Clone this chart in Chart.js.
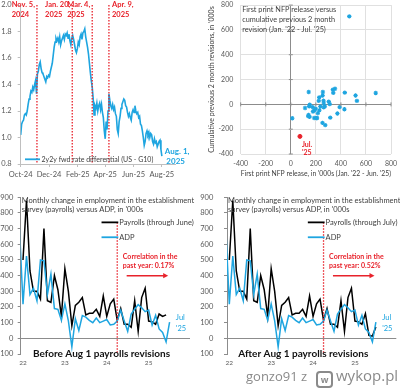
<!DOCTYPE html>
<html>
<head>
<meta charset="utf-8">
<script src="https://cdn.jsdelivr.net/npm/chart.js@4.4.1/dist/chart.umd.min.js"></script>
<style>
  html, body { margin: 0; padding: 0; background: #fff; width: 400px; height: 388px; overflow: hidden; }
  canvas { position: absolute; }
  .wm { position: absolute; color: #8a8a8a; font-family: 'Open Sans', sans-serif; white-space: nowrap; line-height: 1; }
  #who { left: 246px; top: 370px; font-size: 13px; }
  #logo { left: 316px; top: 371px; width: 13px; height: 13px; border: 2px solid #8a8a8a; border-radius: 4px; font-size: 9px; font-weight: bold; line-height: 13px; text-align: center; }
  #site { left: 336px; top: 368px; font-size: 15px; }
</style>
</head>
<body>
<canvas id="fx" width="200" height="185" style="left:0;top:0"></canvas>
<canvas id="nfp" width="200" height="185" style="left:200px;top:0"></canvas>
<canvas id="before" width="200" height="190" style="left:0;top:190px"></canvas>
<canvas id="after" width="200" height="190" style="left:200px;top:190px"></canvas>
<span class="wm" id="who">gonzo91 z</span><span class="wm" id="logo">w</span><span class="wm" id="site">wykop.pl</span>
<script>
// --- top left: 2y2y fwd rate differential, one reading every 2 days from 1 Oct 2024
const rateStepDays = 2;
const rateValues = [
  1.02, 1.10, 1.12, 1.13, 1.17, 1.18, 1.17, 1.20, 1.25, 1.29,
  1.31, 1.35, 1.34, 1.38, 1.36, 1.40, 1.43, 1.33, 1.48, 1.50,
  1.55, 1.57, 1.52, 1.49, 1.48, 1.46, 1.44, 1.42, 1.46, 1.45,
  1.47, 1.46, 1.50, 1.53, 1.56, 1.62, 1.68, 1.72, 1.75, 1.73,
  1.75, 1.72, 1.76, 1.70, 1.73, 1.75, 1.77, 1.74, 1.78, 1.77,
  1.79, 1.75, 1.78, 1.73, 1.70, 1.75, 1.77, 1.74, 1.70, 1.66,
  1.64, 1.67, 1.72, 1.70, 1.76, 1.78, 1.74, 1.79, 1.80, 1.82,
  1.76, 1.72, 1.68, 1.63, 1.56, 1.49, 1.43, 1.38, 1.30, 1.17,
  1.24, 1.22, 1.26, 1.20, 1.24, 1.26, 1.21, 1.25, 1.19, 1.15,
  1.05, 0.99, 1.12, 1.06, 1.20, 1.33, 1.28, 1.24, 1.22, 1.25,
  1.21, 1.23, 1.18, 1.16, 1.06, 1.03, 1.12, 1.16, 1.22, 1.25,
  1.27, 1.29, 1.28, 1.24, 1.23, 1.19, 1.16, 1.18, 1.15, 1.13,
  1.19, 1.21, 1.19, 1.24, 1.20, 1.18, 1.19, 1.15, 1.16, 1.10,
  1.09, 1.05, 1.00, 0.94, 0.97, 1.03, 1.05, 1.02, 1.04, 1.00,
  1.03, 1.02, 0.97, 0.95, 0.99, 0.96, 0.97, 0.93, 0.95, 0.97,
  0.98, 0.91, 0.86
];
const rateTickDays = [0, 61, 123, 182, 243, 304];
const rateTickLabels = ['Oct-24', 'Dec-24', 'Feb-25', 'Apr-25', 'Jun-25', 'Aug-25'];
const eventDays = [35, 111, 154, 190];
const eventLabels = [['Nov. 5,', '2024'], ['Jan. 20,', '2025'], ['Mar. 4,', '2025'], ['Apr. 9,', '2025']];

// --- top right: first print NFP vs cumulative 2 month revision (Jan 22 - Jun 25)
const firstPrint = [467, 678, 431, 428, 390, 372, 528, 315, 263, 261, 263, 223,
  517, 311, 236, 253, 339, 209, 187, 187, 336, 150, 199, 216,
  353, 275, 303, 175, 272, 206, 114, 142, 254, 12, 227, 256,
  143, 151, 228, 177, 139, 147];
const twoMonthRevision = [709, 92, 95, -39, -22, -74, 28, -107, 11, 29, -23, 28,
  71, 2, -17, -149, 93, -110, -49, -110, 119, -101, -35, -71,
  126, -167, 22, -22, -15, -111, -29, -86, 72, -112, 56, 100,
  100, -2, -48, -58, -95, -16];
const julyPrint = 73;
const julyRevision = -258;

// --- bottom: monthly payrolls vs ADP, month 0 = Jan 2022
const payrollsBefore = [500, 880, 430, 300, 300, 250, 700, 240, 230, 400, 310, 140,
  445, 300, 80, 210, 230, 260, 150, 160, 160, 185, 140, 270,
  140, 220, 250, 115, 190, 90, 90, 70, 240, 45, 260, 320,
  110, 105, 90, 155, 140, 150];
const payrollsAfter = [500, 880, 430, 300, 300, 250, 700, 240, 230, 400, 310, 140,
  445, 300, 80, 210, 230, 260, 150, 160, 160, 185, 140, 270,
  140, 220, 250, 115, 190, 90, 90, 70, 240, 45, 260, 320,
  110, 105, 90, 158, 19, 14, 73];
const adpFirstMonth = -1; // ADP series starts Dec 2021
const adp = [700, 218, 525, 280, 320, 240, 500, 495, 280, 410, 190, 185, 115,
  220, 112, -55, 125, 50, 145, 135, 115, 100, 130, 100, 110,
  120, 85, 90, 110, 180, 110, 45, 155, 186, 215, 195, 170,
  180, 84, 147, 60, 37, -23, 104];
const yearTicks = [0, 12, 24, 36];
const yearLabels = ['22', '23', '24', '25'];
const corrStartMonth = 27;

const BLUE = '#1ea5e0';
const RED = '#e8222b';
const AXIS = '#8c8c8c';
const NOTE = '#404040';
const FONT = "Lato, 'Noto Sans', sans-serif";

Chart.defaults.font.family = FONT;
Chart.defaults.font.size = 7;
Chart.defaults.color = '#595959';
Chart.defaults.animation = false;
Chart.defaults.responsive = false;
Chart.defaults.plugins.legend.display = false;
Chart.defaults.plugins.tooltip.enabled = false;

// fixed axis boxes: ignore the label overhang chart.js would otherwise reserve
function fixWidth(w) {
  return s => { s.width = w; s.paddingTop = 0; s.paddingBottom = 0; };
}
function fixHeight(h) {
  return s => { s.height = h; s.paddingLeft = 0; s.paddingRight = 0; };
}

function write(ctx, text, x, y, font, color, align) {
  ctx.font = font;
  ctx.fillStyle = color;
  ctx.textAlign = align || 'left';
  ctx.textBaseline = 'middle';
  ctx.fillText(text, x, y);
}

function segment(ctx, x0, y0, x1, y1, color, width, dash) {
  ctx.strokeStyle = color;
  ctx.lineWidth = width;
  ctx.setLineDash(dash || []);
  ctx.beginPath();
  ctx.moveTo(x0, y0);
  ctx.lineTo(x1, y1);
  ctx.stroke();
  ctx.setLineDash([]);
}

// ---------- top left
const fxOverlay = {
  id: 'fxOverlay',
  afterDatasetsDraw(chart) {
    const { ctx, chartArea: a, scales: { x } } = chart;
    ctx.save();
    const ef = 'bold 7.5px ' + FONT;
    eventDays.forEach((d, i) => {
      const px = x.getPixelForValue(d);
      segment(ctx, px, a.top, px, a.bottom, RED, 1.3, [1.5, 1.5]);
      ctx.font = ef;
      const w = ctx.measureText(eventLabels[i][0]).width;
      const left = i === 3 ? px + 3 : px - 2 - w;
      write(ctx, eventLabels[i][0], left, 5, ef, RED);
      write(ctx, eventLabels[i][1], left, 15, ef, RED);
    });
    // legend
    segment(ctx, 25, 159.3, 40, 159.3, BLUE, 1.8);
    write(ctx, '2y2y fwd rate differential (US - G10)', 41.5, 159.5, '7px ' + FONT, NOTE);
    const endX = x.getPixelForValue((rateValues.length - 1) * rateStepDays);
    write(ctx, 'Aug. 1,', endX + 3, 151.7, 'bold 8px ' + FONT, BLUE);
    write(ctx, '2025', endX + 4.5, 161.7, 'bold 8px ' + FONT, BLUE);
    ctx.restore();
  }
};

new Chart(document.getElementById('fx'), {
  type: 'line',
  data: {
    datasets: [{
      data: rateValues.map((v, i) => ({ x: i * rateStepDays, y: v })),
      borderColor: BLUE,
      borderWidth: 1.6,
      pointRadius: 0,
      tension: 0
    }]
  },
  options: {
    layout: { padding: { top: 5, right: 24.2, left: 0, bottom: 0 } },
    scales: {
      x: {
        type: 'linear', min: 0, max: 334,
        afterFit: fixHeight(21),
        afterBuildTicks: s => { s.ticks = rateTickDays.map(v => ({ value: v })); },
        ticks: { callback: v => rateTickLabels[rateTickDays.indexOf(v)], autoSkip: false, maxRotation: 0, padding: 3, font: { size: 7.5 } },
        grid: { drawOnChartArea: false, tickLength: 3, color: '#bfbfbf' },
        border: { color: '#bfbfbf' }
      },
      y: {
        min: 0.8, max: 2.0,
        afterFit: fixWidth(20.7),
        ticks: { stepSize: 0.2, callback: v => v.toFixed(1), padding: 6, font: { size: 7.5 } },
        grid: { drawOnChartArea: false, tickLength: 3, color: '#bfbfbf' },
        border: { color: '#bfbfbf' }
      }
    }
  },
  plugins: [fxOverlay]
});

// ---------- top right
const nfpOverlay = {
  id: 'nfpOverlay',
  afterDatasetsDraw(chart) {
    const { ctx, chartArea: a, scales: { x, y } } = chart;
    ctx.save();
    const x0 = x.getPixelForValue(0), y0 = y.getPixelForValue(0);
    for (let v = -400; v <= 800; v += 200) {
      segment(ctx, x.getPixelForValue(v), y0 - 2, x.getPixelForValue(v), y0 + 2, AXIS, 1);
      segment(ctx, x0 - 2, y.getPixelForValue(v), x0 + 2, y.getPixelForValue(v), AXIS, 1);
    }
    const f = '7.3px ' + FONT;
    write(ctx, 'First print NFP release versus', a.left + 1.5, 10, f, NOTE);
    write(ctx, 'cumulative previous 2 month', a.left + 1.5, 20, f, NOTE);
    write(ctx, "revision (Jan. '22 - Jul. '25)", a.left + 1.5, 30, f, NOTE);
    const rx = x.getPixelForValue(julyPrint) + 2;
    const ry = y.getPixelForValue(julyRevision);
    write(ctx, 'Jul.', rx, ry + 8, 'bold 7px ' + FONT, RED);
    write(ctx, "'25", rx, ry + 16.5, 'bold 7px ' + FONT, RED);
    ctx.restore();
  }
};

const gridColor = c => (c.tick && c.tick.value === 0 ? AXIS : '#e0e0e0');

new Chart(document.getElementById('nfp'), {
  type: 'scatter',
  data: {
    datasets: [
      {
        data: [{ x: julyPrint, y: julyRevision }],
        pointStyle: 'circle', pointRadius: 2,
        backgroundColor: RED, borderColor: RED
      },
      {
        data: firstPrint.map((v, i) => ({ x: v, y: twoMonthRevision[i] })),
        pointStyle: 'star', pointRadius: 2.2,
        borderColor: BLUE, backgroundColor: BLUE, borderWidth: 1.1
      }
    ]
  },
  options: {
    layout: { padding: { top: 4.7, right: 9, left: 0, bottom: 0 } },
    scales: {
      x: {
        type: 'linear', min: -400, max: 800,
        afterFit: fixHeight(31),
        ticks: { stepSize: 200, padding: 6 },
        grid: { color: gridColor, drawTicks: false },
        border: { display: false },
        title: { display: true, text: "First print NFP release, in '000s (Jan. '22 - Jun. '25)", color: NOTE, font: { size: 7 }, padding: { top: 0, bottom: 7 } }
      },
      y: {
        min: -400, max: 800,
        afterFit: fixWidth(40.7),
        ticks: { stepSize: 200, padding: 7.4 },
        grid: { color: gridColor, drawTicks: false },
        border: { display: false },
        title: { display: true, text: "Cumulative previous 2 month revisions, in '000s", color: NOTE, font: { size: 7 }, padding: { top: 7.8, bottom: 0 } }
      }
    }
  },
  plugins: [nfpOverlay]
});

// ---------- bottom panels
function jobsOverlay(legendText, corrText, caption, captionMonth) {
  return {
    id: 'jobsOverlay',
    afterDatasetsDraw(chart) {
      const { ctx, chartArea: a, scales: { x, y } } = chart;
      ctx.save();
      const f = '7.5px ' + FONT;
      write(ctx, 'Monthly change in employment in the establishment', a.left + 1, 10.7, f, NOTE);
      write(ctx, "survey (payrolls) versus ADP, in '000s", a.left + 1, 19.5, f, NOTE);
      const cx = x.getPixelForValue(corrStartMonth);
      segment(ctx, cx, y.getPixelForValue(740), cx, a.bottom, RED, 1.3, [1.5, 1.5]);
      const l0 = x.getPixelForValue(22.5), l1 = x.getPixelForValue(27.3);
      segment(ctx, l0, y.getPixelForValue(740), l1, y.getPixelForValue(740), '#000', 1.8);
      segment(ctx, l0, y.getPixelForValue(645), l1, y.getPixelForValue(645), BLUE, 1.8);
      write(ctx, legendText, l1 + 1, y.getPixelForValue(740), f, NOTE);
      write(ctx, 'ADP', l1 + 1, y.getPixelForValue(645), f, NOTE);
      const tx = x.getPixelForValue(28.6);
      write(ctx, 'Correlation in the', tx, y.getPixelForValue(523), 'bold 7px ' + FONT, RED);
      write(ctx, corrText, tx, y.getPixelForValue(464), 'bold 7px ' + FONT, RED);
      const ay = y.getPixelForValue(400);
      const a0 = x.getPixelForValue(29.7), a1 = x.getPixelForValue(41.6);
      segment(ctx, a0, ay, a1 - 4, ay, RED, 1.5);
      ctx.fillStyle = RED;
      ctx.beginPath();
      ctx.moveTo(a1, ay);
      ctx.lineTo(a1 - 5, ay - 2.6);
      ctx.lineTo(a1 - 5, ay + 2.6);
      ctx.closePath();
      ctx.fill();
      const jx = x.getPixelForValue(43.8);
      write(ctx, 'Jul', jx, y.getPixelForValue(133), f, BLUE);
      write(ctx, "'25", jx, y.getPixelForValue(63), f, BLUE);
      write(ctx, caption, x.getPixelForValue(captionMonth), a.bottom, 'bold 10px ' + FONT, '#111', 'center');
      // year labels under the plot
      yearTicks.forEach((m, i) => {
        write(ctx, yearLabels[i], x.getPixelForValue(m), a.bottom + 9, '6.5px ' + FONT, '#595959', 'center');
      });
      ctx.restore();
    }
  };
}

function jobsChart(id, payrolls, legendText, corrText, caption, captionMonth, axisWidth, labelPad, rightPad) {
  return new Chart(document.getElementById(id), {
    type: 'line',
    data: {
      datasets: [
        {
          data: adp.map((v, i) => ({ x: i + adpFirstMonth, y: v })),
          borderColor: BLUE, borderWidth: 1.5, pointRadius: 0, tension: 0
        },
        {
          data: payrolls.map((v, i) => ({ x: i, y: v })),
          borderColor: '#000', borderWidth: 1.5, pointRadius: 0, tension: 0
        }
      ]
    },
    options: {
      layout: { padding: { top: 7.3, right: rightPad, left: 0, bottom: 0 } },
      scales: {
        x: {
          type: 'linear', min: -0.66, max: 47.85,
          afterFit: fixHeight(26),
          ticks: { display: false },
          grid: { display: false, drawTicks: false },
          border: { display: false }
        },
        y: {
          min: -100, max: 900,
          afterFit: fixWidth(axisWidth),
          ticks: { stepSize: 100, padding: labelPad, font: { size: 7.5 } },
          grid: { color: c => (c.tick && c.tick.value === 0 ? AXIS : 'rgba(0,0,0,0)'), tickColor: AXIS, tickLength: 3 },
          border: { color: AXIS }
        }
      }
    },
    plugins: [jobsOverlay(legendText, corrText, caption, captionMonth)]
  });
}

jobsChart('before', payrollsBefore, 'Payrolls (through June)', 'past year: 0.17%', 'Before Aug 1 payrolls revisions', 22.5, 20.7, 4.4, 10);
jobsChart('after', payrollsAfter, 'Payrolls (through July)', 'past year: 0.52%', 'After Aug 1 payrolls revisions', 21.2, 27, 10.7, 3.7);
</script>
</body>
</html>
